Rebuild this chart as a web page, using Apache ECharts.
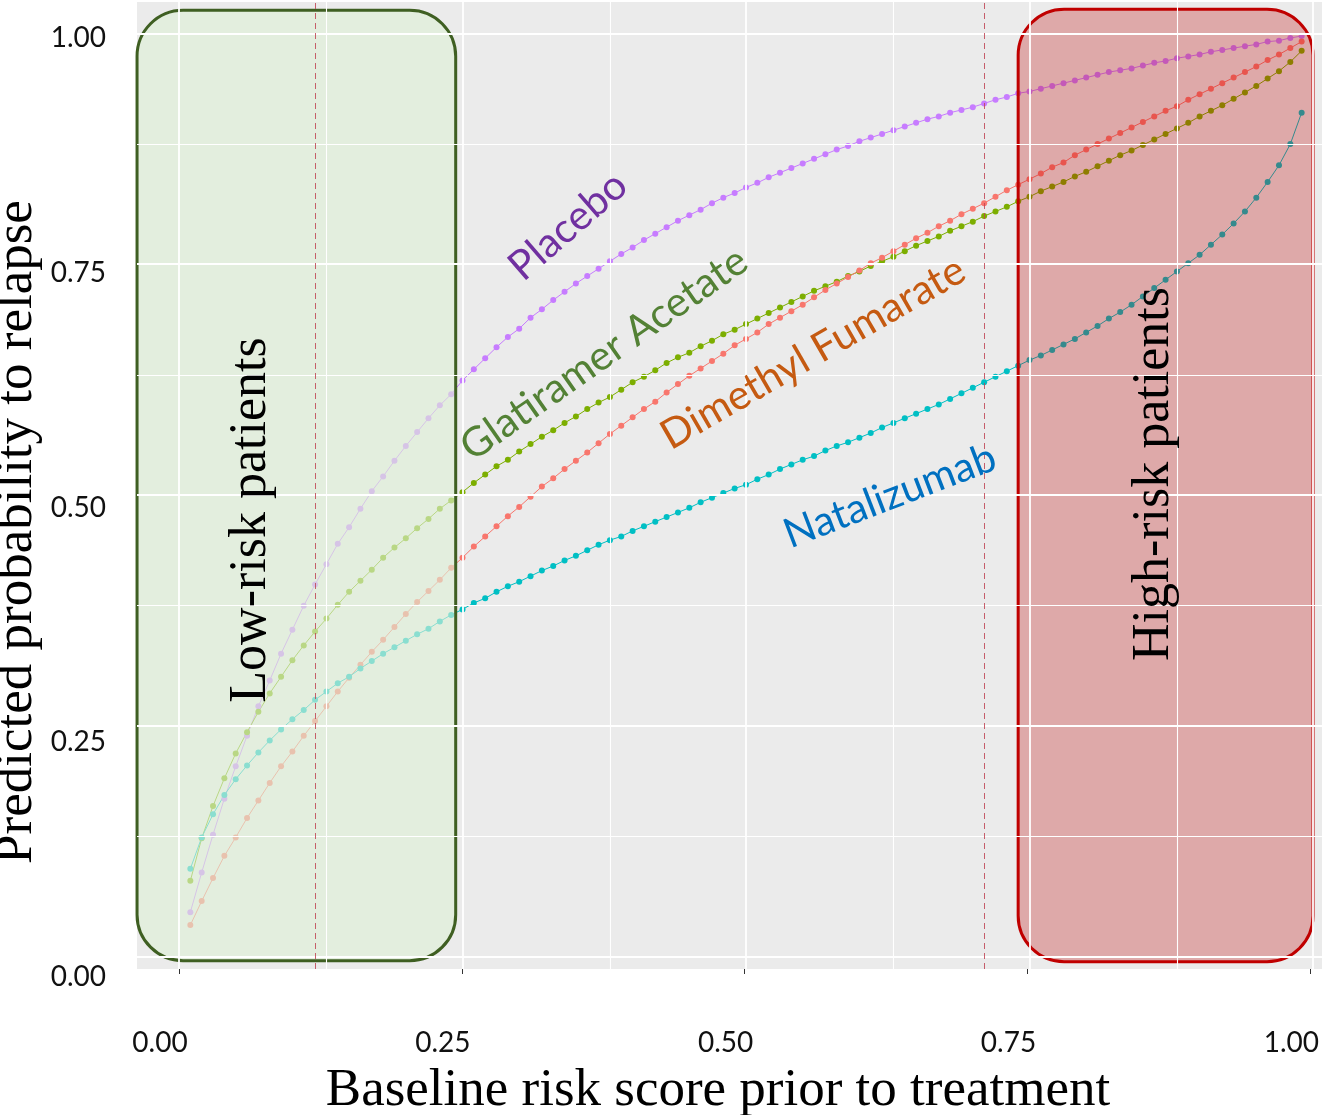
<!DOCTYPE html>
<html>
<head>
<meta charset="utf-8">
<script src="https://cdn.jsdelivr.net/npm/echarts@6/dist/echarts.min.js"></script>
<style>
html,body{margin:0;padding:0;background:#ffffff;}
#chart{width:1322px;height:1115px;}
</style>
</head>
<body>
<div id="chart"></div>
<script>
// ---------------- DATA ----------------
const riskScore = [
  0.01,0.02,0.03,0.04,0.05,0.06,0.07,0.08,0.09,0.10,
  0.11,0.12,0.13,0.14,0.15,0.16,0.17,0.18,0.19,0.20,
  0.21,0.22,0.23,0.24,0.25,0.26,0.27,0.28,0.29,0.30,
  0.31,0.32,0.33,0.34,0.35,0.36,0.37,0.38,0.39,0.40,
  0.41,0.42,0.43,0.44,0.45,0.46,0.47,0.48,0.49,0.50,
  0.51,0.52,0.53,0.54,0.55,0.56,0.57,0.58,0.59,0.60,
  0.61,0.62,0.63,0.64,0.65,0.66,0.67,0.68,0.69,0.70,
  0.71,0.72,0.73,0.74,0.75,0.76,0.77,0.78,0.79,0.80,
  0.81,0.82,0.83,0.84,0.85,0.86,0.87,0.88,0.89,0.90,
  0.91,0.92,0.93,0.94,0.95,0.96,0.97,0.98,0.99
];
const placebo = [
  0.048,0.091,0.132,0.171,0.206,0.239,0.271,0.299,0.328,0.354,
  0.380,0.403,0.425,0.447,0.465,0.485,0.504,0.520,0.537,0.553,
  0.568,0.583,0.597,0.609,0.624,0.636,0.648,0.660,0.671,0.680,
  0.692,0.701,0.711,0.720,0.729,0.737,0.745,0.753,0.761,0.768,
  0.776,0.783,0.790,0.797,0.803,0.809,0.816,0.822,0.827,0.833,
  0.838,0.844,0.849,0.854,0.859,0.864,0.869,0.874,0.878,0.883,
  0.887,0.891,0.895,0.899,0.903,0.907,0.910,0.914,0.917,0.920,
  0.924,0.928,0.931,0.935,0.937,0.940,0.943,0.946,0.949,0.952,
  0.955,0.958,0.960,0.962,0.965,0.968,0.970,0.973,0.975,0.977,
  0.980,0.982,0.984,0.986,0.988,0.991,0.992,0.995,0.997
];
const glatiramer = [
  0.082,0.128,0.163,0.193,0.220,0.243,0.265,0.285,0.303,0.321,
  0.337,0.352,0.366,0.381,0.395,0.407,0.419,0.432,0.443,0.453,
  0.464,0.474,0.485,0.494,0.503,0.513,0.522,0.531,0.538,0.547,
  0.555,0.563,0.570,0.578,0.585,0.593,0.600,0.606,0.614,0.622,
  0.628,0.635,0.643,0.649,0.654,0.661,0.667,0.674,0.679,0.685,
  0.691,0.697,0.703,0.709,0.715,0.721,0.726,0.731,0.737,0.742,
  0.748,0.753,0.758,0.764,0.770,0.775,0.780,0.786,0.791,0.796,
  0.802,0.807,0.812,0.818,0.823,0.829,0.834,0.839,0.845,0.850,
  0.856,0.862,0.868,0.873,0.879,0.885,0.891,0.897,0.903,0.910,
  0.916,0.922,0.929,0.936,0.943,0.951,0.959,0.969,0.981
];
const dimethyl = [
  0.034,0.060,0.085,0.109,0.129,0.150,0.169,0.188,0.206,0.222,
  0.239,0.255,0.271,0.287,0.302,0.316,0.330,0.343,0.357,0.371,
  0.384,0.396,0.408,0.421,0.432,0.444,0.455,0.466,0.477,0.487,
  0.498,0.509,0.518,0.528,0.537,0.546,0.556,0.566,0.575,0.584,
  0.593,0.601,0.611,0.620,0.629,0.637,0.645,0.653,0.662,0.669,
  0.676,0.685,0.692,0.699,0.706,0.714,0.722,0.729,0.736,0.743,
  0.751,0.757,0.764,0.771,0.778,0.784,0.791,0.797,0.804,0.810,
  0.816,0.823,0.830,0.836,0.842,0.848,0.855,0.860,0.868,0.874,
  0.880,0.886,0.892,0.898,0.904,0.910,0.916,0.921,0.928,0.934,
  0.940,0.946,0.952,0.958,0.964,0.971,0.977,0.984,0.991
];
const natalizumab = [
  0.095,0.129,0.154,0.175,0.192,0.207,0.221,0.234,0.246,0.257,
  0.267,0.278,0.287,0.296,0.303,0.312,0.320,0.328,0.335,0.342,
  0.349,0.355,0.363,0.370,0.376,0.383,0.388,0.395,0.401,0.406,
  0.412,0.418,0.423,0.429,0.434,0.440,0.446,0.451,0.455,0.461,
  0.466,0.471,0.476,0.481,0.486,0.492,0.497,0.502,0.507,0.511,
  0.517,0.522,0.528,0.533,0.538,0.542,0.548,0.553,0.557,0.562,
  0.567,0.573,0.578,0.583,0.588,0.593,0.598,0.604,0.610,0.616,
  0.622,0.628,0.634,0.640,0.646,0.651,0.657,0.663,0.669,0.676,
  0.683,0.691,0.698,0.706,0.715,0.724,0.733,0.742,0.751,0.760,
  0.771,0.782,0.794,0.807,0.822,0.839,0.857,0.880,0.914
];
const seriesNames = ['Placebo', 'Glatiramer Acetate', 'Dimethyl Fumarate', 'Natalizumab'];
const xTickValues = [0, 0.25, 0.5, 0.75, 1];
const yTickValues = [0, 0.25, 0.5, 0.75, 1];
const minorGridValues = [0.125, 0.375, 0.625, 0.875];
const cutoffValues = [0.119, 0.706];
const groupLabels = ['Low-risk patients', 'High-risk patients'];
const xTitle = 'Baseline risk score prior to treatment';
const yTitle = 'Predicted probability to relapse';

// ---------------- STYLE / LAYOUT ----------------
const pointColors = ['#C77CFF', '#7CAE00', '#F8766D', '#00BFC4'];
const labelColors = ['#7030A0', '#538135', '#C55A11', '#0070C0'];
// box extents in data units (layout)
const boxExtents = [
  [-0.037, -0.0045, 0.244, 1.025],
  [0.740, -0.0056, 1.000, 1.026]
];
const boxStyles = [
  {fill: 'rgba(222,240,215,0.62)', stroke: '#3F5F22'},
  {fill: 'rgba(192,0,0,0.28)', stroke: '#C00000'}
];

const allSeries = [placebo, glatiramer, dimethyl, natalizumab];
const chart = echarts.init(document.getElementById('chart'), null, {renderer: 'canvas'});

const dataSeries = allSeries.map((vals, k) => ({
  type: 'line',
  name: seriesNames[k],
  xAxisIndex: 0, yAxisIndex: 0,
  data: riskScore.map((x, i) => [x, vals[i]]),
  symbol: 'circle',
  symbolSize: 6,
  showSymbol: true,
  itemStyle: {color: pointColors[k]},
  lineStyle: {color: pointColors[k], width: 1},
  z: 3,
  silent: true,
  animation: false
}));

const gridLineSeries = (values, width) => ({
  type: 'line', data: [], xAxisIndex: 0, yAxisIndex: 0, z: 1, silent: true, animation: false,
  markLine: {
    silent: true, symbol: ['none', 'none'], label: {show: false}, animation: false,
    lineStyle: {color: '#FFFFFF', width: width, type: 'solid'},
    emphasis: {disabled: true},
    data: values.map(v => ({xAxis: v})).concat(values.map(v => ({yAxis: v})))
  }
});

const option = {
  backgroundColor: '#FFFFFF',
  animation: false,
  grid: [
    {left: 137, right: 0, top: 2, bottom: 146, show: true, backgroundColor: '#EBEBEB', borderWidth: 0, containLabel: false},
    {left: 179, width: 1134, top: 33, height: 936, show: false, containLabel: false},
    {left: 137, width: 1000, top: 38, height: 939, show: false, containLabel: false}
  ],
  xAxis: [
    {gridIndex: 0, type: 'value', min: -0.03704, max: 1.00794, show: false},
    {gridIndex: 1, type: 'value', min: 0, max: 1, interval: 0.25,
      axisLine: {show: false}, splitLine: {show: false},
      axisTick: {show: true, length: 5, lineStyle: {color: '#333333', width: 1}},
      axisLabel: {show: true, margin: 60, fontFamily: 'Lato', fontSize: 28, color: '#111111',
        padding: [0, 38, 0, 0], formatter: v => v.toFixed(2)}},
    {gridIndex: 2, type: 'value', min: 0, max: 1, show: false}
  ],
  yAxis: [
    {gridIndex: 0, type: 'value', min: -0.01354, max: 1.0339, show: false},
    {gridIndex: 1, type: 'value', min: 0, max: 1, show: false},
    {gridIndex: 2, type: 'value', min: 0, max: 1, interval: 0.25, position: 'left',
      axisLine: {show: false}, splitLine: {show: false}, axisTick: {show: false},
      axisLabel: {show: true, margin: 31, fontFamily: 'Lato', fontSize: 28, color: '#111111',
        formatter: v => v.toFixed(2)}}
  ],
  series: [
    gridLineSeries(xTickValues, 1.8),
    gridLineSeries(minorGridValues, 1.1),
    ...dataSeries,
    {
      type: 'custom', xAxisIndex: 0, yAxisIndex: 0, z: 4, silent: true, animation: false,
      data: boxExtents,
      renderItem: (params, api) => {
        const p0 = api.coord([api.value(0), api.value(3)]);
        const p1 = api.coord([api.value(2), api.value(1)]);
        const st = boxStyles[params.dataIndex];
        return {
          type: 'rect',
          shape: {x: p0[0], y: p0[1], width: p1[0] - p0[0], height: p1[1] - p0[1], r: 46},
          style: {fill: st.fill, stroke: st.stroke, lineWidth: 3}
        };
      }
    },
    {
      type: 'line', data: [], xAxisIndex: 0, yAxisIndex: 0, z: 5, silent: true, animation: false,
      markLine: {
        silent: true, symbol: ['none', 'none'], label: {show: false}, animation: false,
        lineStyle: {color: '#C04555', width: 1, type: [6, 4], opacity: 0.85},
        emphasis: {disabled: true},
        data: cutoffValues.map(v => ({xAxis: v}))
      }
    }
  ],
  graphic: [
    {type: 'text', x: 251, y: 520, rotation: Math.PI / 2, z: 100,
      style: {text: groupLabels[0], font: '52px "Liberation Serif"', fill: '#000000', align: 'center', verticalAlign: 'middle'}},
    {type: 'text', x: 1154, y: 474, rotation: Math.PI / 2, z: 100,
      style: {text: groupLabels[1], font: '52px "Liberation Serif"', fill: '#000000', align: 'center', verticalAlign: 'middle'}},
    {type: 'text', x: 17, y: 532, rotation: Math.PI / 2, z: 100,
      style: {text: yTitle, font: '53px "Liberation Serif"', fill: '#000000', align: 'center', verticalAlign: 'middle'}},
    {type: 'text', x: 718, y: 1091, z: 100,
      style: {text: xTitle, font: '53px "Liberation Serif"', fill: '#000000', align: 'center', verticalAlign: 'middle'}},
    {type: 'text', x: 568, y: 226, rotation: 41 * Math.PI / 180, z: 100,
      style: {text: seriesNames[0], font: '41px Lato', fill: labelColors[0], align: 'center', verticalAlign: 'middle'}},
    {type: 'text', x: 604, y: 354, rotation: 35 * Math.PI / 180, z: 100,
      style: {text: seriesNames[1], font: '41px Lato', fill: labelColors[1], align: 'center', verticalAlign: 'middle'}},
    {type: 'text', x: 813, y: 353, rotation: 30 * Math.PI / 180, z: 100,
      style: {text: seriesNames[2], font: '41px Lato', fill: labelColors[2], align: 'center', verticalAlign: 'middle'}},
    {type: 'text', x: 890, y: 496, rotation: 21 * Math.PI / 180, z: 100,
      style: {text: seriesNames[3], font: '41px Lato', fill: labelColors[3], align: 'center', verticalAlign: 'middle'}}
  ]
};
chart.setOption(option);
</script>
</body>
</html>
